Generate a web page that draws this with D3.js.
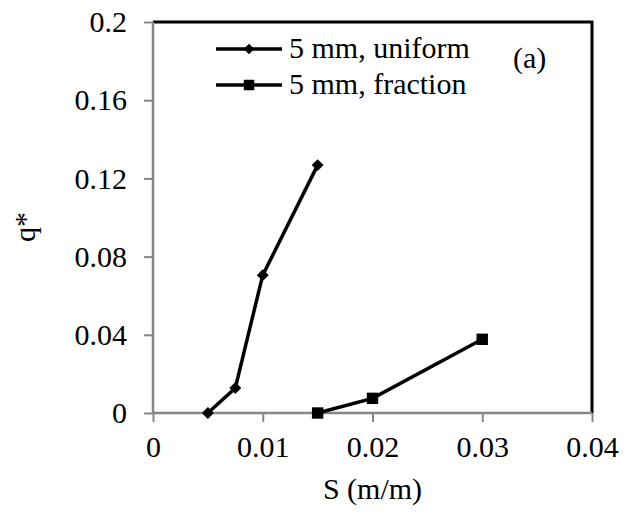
<!doctype html>
<html lang="en">
<head>
<meta charset="UTF-8">
<title>q* vs S</title>
<script src="https://d3js.org/d3.v7.min.js"></script>
<style>
  body { margin: 0; background: #fff; }
  svg text { font-family: 'Liberation Serif', 'DejaVu Serif', serif; fill: #000; }
</style>
</head>
<body>
<div id="chart"></div>
<script>
  // Data
  const uniformS = [0.005, 0.0075, 0.01, 0.015]
  const uniformQ = [0.0, 0.0128, 0.0705, 0.1268]
  const fractionS = [0.015, 0.02, 0.03]
  const fractionQ = [0.0, 0.0075, 0.0377]
  const xTicks = [0, 0.01, 0.02, 0.03, 0.04]
  const yTicks = [0, 0.04, 0.08, 0.12, 0.16, 0.2]
  const seriesNames = ['5 mm, uniform', '5 mm, fraction']

  const FONT = "'Liberation Serif', 'DejaVu Serif', serif"
  const FS = 30
  const width = 627, height = 513
  const m = { left: 153, right: 35, top: 22, bottom: 100 }

  const svg = d3.select('#chart').append('svg')
    .attr('width', width)
    .attr('height', height)
    .attr('font-family', FONT)

  const x = d3.scaleLinear().domain([0, 0.04]).range([m.left, width - m.right])
  const y = d3.scaleLinear().domain([0, 0.2]).range([height - m.bottom, m.top])

  // plot border (top + right black)
  svg.append('path')
    .attr('d', `M${x(0)},${y(0.2)}H${x(0.04)}V${y(0)}`)
    .attr('fill', 'none')
    .attr('stroke', '#000')
    .attr('stroke-width', 3)

  const fmt = d => d === 0 ? '0' : String(+d.toFixed(2))
  const yAxis = svg.append('g')
    .attr('transform', `translate(${x(0)},0)`)
    .call(d3.axisLeft(y).tickValues(yTicks).tickSize(9).tickPadding(17).tickFormat(fmt))
  const xAxis = svg.append('g')
    .attr('transform', `translate(0,${y(0)})`)
    .call(d3.axisBottom(x).tickValues(xTicks).tickSize(9).tickPadding(14).tickFormat(fmt))

  for (const ax of [xAxis, yAxis]) {
    ax.attr('font-family', FONT).attr('font-size', FS)
    ax.select('.domain').attr('stroke', '#868686').attr('stroke-width', 2.5)
    ax.selectAll('.tick line').attr('stroke', '#868686').attr('stroke-width', 2)
    ax.selectAll('.tick text').attr('fill', '#000')
  }
  xAxis.select('.domain').attr('d', `M${x(0)},0H${x(0.04)}`)
  yAxis.select('.domain').attr('d', `M0,${y(0)}V${y(0.2)}`)

  const line = d3.line().x(d => x(d[0])).y(d => y(d[1]))
  const uniform = uniformS.map((s, i) => [s, uniformQ[i]])
  const fraction = fractionS.map((s, i) => [s, fractionQ[i]])

  const diamond = d3.symbol().type(d3.symbolDiamond2).size(90)
  const square = d3.symbol().type(d3.symbolSquare).size(130)

  function drawSeries(data, sym) {
    svg.append('path')
      .datum(data)
      .attr('d', line)
      .attr('fill', 'none')
      .attr('stroke', '#000')
      .attr('stroke-width', 3.5)
    svg.selectAll(null).data(data).enter().append('path')
      .attr('d', sym)
      .attr('transform', d => `translate(${x(d[0])},${y(d[1])})`)
      .attr('fill', '#000')
  }
  drawSeries(uniform, diamond)
  drawSeries(fraction, square)

  // legend
  const legend = svg.append('g')
  const syms = [d3.symbol().type(d3.symbolDiamond2).size(70), d3.symbol().type(d3.symbolSquare).size(110)]
  seriesNames.forEach((name, i) => {
    const ly = 49 + i * 36
    legend.append('line')
      .attr('x1', 216).attr('x2', 282).attr('y1', ly).attr('y2', ly)
      .attr('stroke', '#000').attr('stroke-width', 3.5)
    legend.append('path')
      .attr('d', syms[i])
      .attr('transform', `translate(249,${ly})`)
    legend.append('text')
      .attr('x', 289).attr('y', ly + 9)
      .attr('font-size', FS)
      .text(name)
  })

  svg.append('text')
    .attr('x', 513).attr('y', 68)
    .attr('font-size', FS)
    .text('(a)')

  svg.append('text')
    .attr('x', x(0.02)).attr('y', 499)
    .attr('text-anchor', 'middle')
    .attr('font-size', FS)
    .text('S (m/m)')

  svg.append('text')
    .attr('transform', `translate(35,227) rotate(-90)`)
    .attr('text-anchor', 'middle')
    .attr('font-size', FS)
    .text('q*')
</script>
</body>
</html>
